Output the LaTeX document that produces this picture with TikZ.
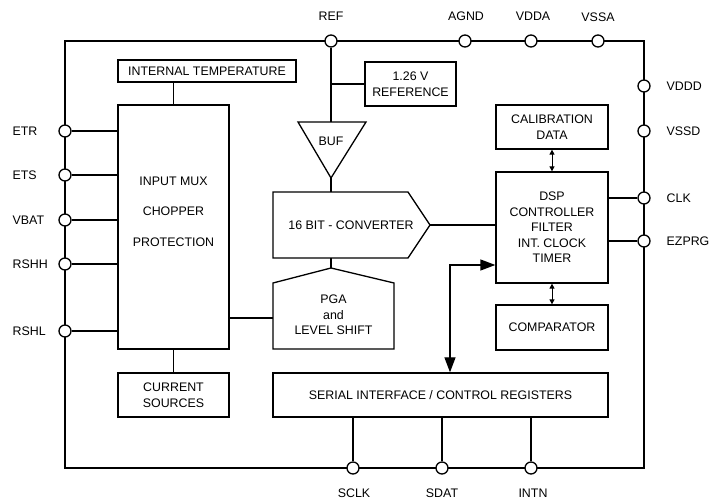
\documentclass[tikz,border=0pt]{standalone}
\usepackage{fontspec}
\setmainfont{Liberation Sans}
\usetikzlibrary{arrows.meta}
\begin{document}
\begin{tikzpicture}[x=1pt,y=-1pt,
  line width=1.3pt,
  every node/.style={font=\fontsize{12.4}{15.5}\selectfont, inner sep=0pt},
  blk/.style={draw, align=center, anchor=center},
  pin/.style={draw, circle, fill=white, minimum size=12pt, line width=1.3pt},
  pinlbl/.style={align=center},
  bus/.style={{Triangle[length=15pt,width=11pt]}-{Triangle[length=15pt,width=11pt]}},
  link/.style={{Triangle[length=5pt,width=5pt]}-{Triangle[length=5pt,width=5pt]}, line width=1pt}
]
\useasboundingbox (0,0) rectangle (721,502);

% package outline
\draw (65,41) rectangle (644,468);

% blocks
\node[blk, minimum width=178pt, minimum height=22pt] (itemp) at (207,71) {INTERNAL TEMPERATURE};
\node[blk, minimum width=111pt, minimum height=244pt] (mux) at (173.5,227) {};
\node (muxtxt) at (173.5,181) {INPUT MUX};
\node (choptxt) at (173.5,211) {CHOPPER};
\node (prottxt) at (173.5,242) {PROTECTION};
\node[blk, minimum width=111pt, minimum height=44pt] (isrc) at (173.5,395) {CURRENT\\SOURCES};
\node[blk, minimum width=91pt, minimum height=44pt] (vref) at (410.5,84) {1.26 V\\REFERENCE};
\node[blk, minimum width=112pt, minimum height=44pt] (calib) at (552,127) {CALIBRATION\\DATA};
\node[blk, minimum width=112pt, minimum height=111pt] (dsp) at (552,227.5) {DSP\\CONTROLLER\\FILTER\\INT. CLOCK\\TIMER};
\node[blk, minimum width=112pt, minimum height=45pt] (comp) at (552,327.5) {COMPARATOR};
\node[blk, minimum width=335pt, minimum height=44pt] (serial) at (440.5,395) {SERIAL INTERFACE / CONTROL REGISTERS};

% buffer triangle
\coordinate (buftop) at (331,122);
\coordinate (bufout) at (331,178);
\draw (298,122) -- (366,122) -- (bufout) -- cycle;
\node (buf) at (331,141) {BUF};

% converter
\coordinate (convtop) at (331,192);
\coordinate (convbot) at (331,258);
\coordinate (convtip) at (430,225);
\draw (273,192) -- (408,192) -- (convtip) -- (408,258) -- (273,258) -- cycle;
\node (conv) at (351,225) {16 BIT - CONVERTER};

% PGA
\coordinate (pgatop) at (331,268);
\coordinate (pgain) at (273,318);
\draw (273,349) -- (273,283) -- (pgatop) -- (394,283) -- (394,349) -- cycle;
\node[align=center] (pga) at (333.5,315) {PGA\\and\\LEVEL SHIFT};

% pins, top
\node[pin] (pref) at (331,41) {};
\node[pin] (pagnd) at (465,41) {};
\node[pin] (pvdda) at (531,41) {};
\node[pin] (pvssa) at (598,41) {};
\node[pinlbl] at (331,16) {REF};
\node[pinlbl] at (466,16) {AGND};
\node[pinlbl] at (533,16) {VDDA};
\node[pinlbl] at (598,17) {VSSA};

% pins, right
\node[pin] (pvddd) at (644,86) {};
\node[pin] (pvssd) at (644,131) {};
\node[pin] (pclk) at (644,198) {};
\node[pin] (pezprg) at (644,241) {};
\node[anchor=west] at (666,86) {VDDD};
\node[anchor=west] at (666,131) {VSSD};
\node[anchor=west] at (666,198) {CLK};
\node[anchor=west] at (666,241) {EZPRG};

% pins, left
\node[pin] (petr) at (65,131) {};
\node[pin] (pets) at (65,175) {};
\node[pin] (pvbat) at (65,220) {};
\node[pin] (prshh) at (65,264) {};
\node[pin] (prshl) at (65,331) {};
\node[anchor=west] at (12,131) {ETR};
\node[anchor=west] at (12,175) {ETS};
\node[anchor=west] at (12,220) {VBAT};
\node[anchor=west] at (12,264) {RSHH};
\node[anchor=west] at (12,331) {RSHL};

% pins, bottom
\node[pin] (psclk) at (353,468) {};
\node[pin] (psdat) at (442,468) {};
\node[pin] (pintn) at (531,468) {};
\node[pinlbl] at (354,493) {SCLK};
\node[pinlbl] at (442,493) {SDAT};
\node[pinlbl] at (533,493) {INTN};

% connections
\draw (itemp.south -| mux.north) -- (mux.north);
\draw (mux.south) -- (isrc.north);
\foreach \p in {petr,pets,pvbat,prshh,prshl}
  \draw (\p.east) -- (\p -| mux.west);
\draw (pgain -| mux.east) -- (pgain);
\draw (pref.south) -- (buftop);
\coordinate (refbr) at (331,84);
\draw (refbr) -- (vref.west);
\draw (bufout) -- (convtop);
\draw (convbot) -- (pgatop);
\draw (convtip) -- (convtip -| dsp.west);
\draw (pclk -| dsp.east) -- (pclk.west);
\draw (pezprg -| dsp.east) -- (pezprg.west);
\draw[link] (calib.south) -- (dsp.north);
\draw[link] (dsp.south) -- (comp.north);
\coordinate (busx) at (450,265);
\draw[bus] (busx |- serial.north) -- (busx) -- (busx -| dsp.west);
\draw (psclk |- serial.south) -- (psclk.north);
\draw (psdat |- serial.south) -- (psdat.north);
\draw (pintn |- serial.south) -- (pintn.north);
\end{tikzpicture}
\end{document}
